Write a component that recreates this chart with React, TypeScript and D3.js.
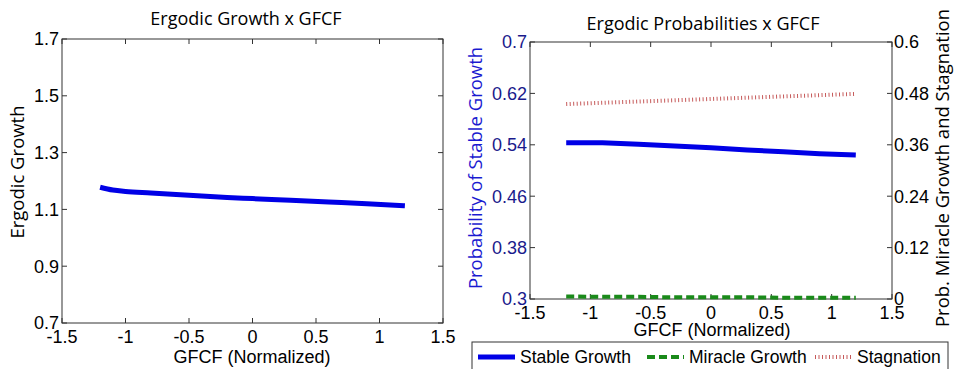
import React, { useEffect, useRef } from "react";
import * as d3 from "d3";

// left panel
const gfcfLeft = [-1.2, -1.1, -1.0, -0.8, -0.5, -0.2, 0, 0.3, 0.6, 0.9, 1.2];
const ergodicGrowth = [1.178, 1.168, 1.163, 1.158, 1.15, 1.142, 1.138, 1.132, 1.126, 1.12, 1.113];

// right panel
const gfcfRight = [-1.2, -0.9, -0.6, -0.3, 0, 0.3, 0.6, 0.9, 1.2];
const stableGrowth = [0.543, 0.543, 0.541, 0.538, 0.5355, 0.532, 0.529, 0.526, 0.524];
const miracleGrowth = [0.006, 0.005, 0.005, 0.004, 0.004, 0.004, 0.003, 0.003, 0.003];
const stagnation = [0.455, 0.458, 0.461, 0.464, 0.467, 0.47, 0.473, 0.476, 0.479];

const xTicks = [-1.5, -1, -0.5, 0, 0.5, 1, 1.5];
const leftYTicks = [0.7, 0.9, 1.1, 1.3, 1.5, 1.7];
const probTicks = [0.3, 0.38, 0.46, 0.54, 0.62, 0.7];
const rightTicks = [0, 0.12, 0.24, 0.36, 0.48, 0.6];

const legendItems = ["Stable Growth", "Miracle Growth", "Stagnation"];

const W = 958;
const H = 369;
const TICK_FONT = "Liberation Sans, Arial, sans-serif";
const LABEL_FONT = "Open Sans, sans-serif";
const TICK_SIZE = 18;

export default function App() {
  const ref = useRef<SVGSVGElement>(null);

  useEffect(() => {
    const svg = d3.select(ref.current);
    svg.selectAll("*").remove();
    svg.append("rect").attr("width", W).attr("height", H).attr("fill", "#fff");

    // boxed axis, ticks pointing inward like matlab
    function box(g: any, x: any, y: any, yTicks: number[], yColor: string) {
      const [x0, x1] = x.range();
      const [y1, y0] = y.range();
      g.append("rect").attr("x", x0).attr("y", y0).attr("width", x1 - x0).attr("height", y1 - y0)
        .attr("fill", "none").attr("stroke", "#333").attr("stroke-width", 1);
      xTicks.forEach((t) => {
        const px = x(t);
        g.append("line").attr("x1", px).attr("x2", px).attr("y1", y1).attr("y2", y1 - 5).attr("stroke", "#333");
        g.append("line").attr("x1", px).attr("x2", px).attr("y1", y0).attr("y2", y0 + 5).attr("stroke", "#333");
        g.append("text").attr("x", px).attr("y", y1 + 20).attr("text-anchor", "middle")
          .attr("font-family", TICK_FONT).attr("font-size", TICK_SIZE).attr("fill", "#000").text(String(t));
      });
      yTicks.forEach((t) => {
        const py = y(t);
        g.append("line").attr("x1", x0).attr("x2", x0 + 5).attr("y1", py).attr("y2", py).attr("stroke", "#333");
        g.append("text").attr("x", x0 - 3).attr("y", py).attr("dy", "0.36em").attr("text-anchor", "end")
          .attr("font-family", TICK_FONT).attr("font-size", TICK_SIZE).attr("fill", yColor).text(String(t));
      });
    }

    // ---------- left chart
    const xL = d3.scaleLinear().domain([-1.5, 1.5]).range([62, 443]);
    const yL = d3.scaleLinear().domain([0.7, 1.7]).range([323, 39]);
    const gL = svg.append("g");
    box(gL, xL, yL, leftYTicks, "#000");
    leftYTicks.forEach((t) => {
      gL.append("line").attr("x1", 443).attr("x2", 438).attr("y1", yL(t)).attr("y2", yL(t)).attr("stroke", "#333");
    });
    const lineL = d3.line<number>().x((_, i) => xL(gfcfLeft[i])).y((d) => yL(d)).curve(d3.curveMonotoneX);
    gL.append("path").attr("d", lineL(ergodicGrowth)).attr("fill", "none").attr("stroke", "#0000e6").attr("stroke-width", 5);

    gL.append("text").attr("x", 246).attr("y", 25).attr("text-anchor", "middle")
      .attr("font-family", LABEL_FONT).attr("font-size", 18).text("Ergodic Growth x GFCF");
    gL.append("text").attr("x", 252).attr("y", 363).attr("text-anchor", "middle")
      .attr("font-family", TICK_FONT).attr("font-size", TICK_SIZE).text("GFCF (Normalized)");
    gL.append("text").attr("transform", "translate(24,172) rotate(-90)").attr("text-anchor", "middle")
      .attr("font-family", LABEL_FONT).attr("font-size", 18.5).text("Ergodic Growth");

    // ---------- right chart
    const xR = d3.scaleLinear().domain([-1.5, 1.5]).range([530, 892]);
    const yR = d3.scaleLinear().domain([0.3, 0.7]).range([299, 42]);
    const yR2 = d3.scaleLinear().domain([0, 0.6]).range([299, 42]);
    const gR = svg.append("g");
    box(gR, xR, yR, probTicks, "#1a1a8c");
    rightTicks.forEach((t) => {
      const py = yR2(t);
      gR.append("line").attr("x1", 892).attr("x2", 887).attr("y1", py).attr("y2", py).attr("stroke", "#333");
      gR.append("text").attr("x", 894).attr("y", py).attr("dy", "0.36em").attr("text-anchor", "start")
        .attr("font-family", TICK_FONT).attr("font-size", TICK_SIZE).attr("fill", "#000").text(String(t));
    });

    const lineStable = d3.line<number>().x((_, i) => xR(gfcfRight[i])).y((d) => yR(d));
    const lineRight = d3.line<number>().x((_, i) => xR(gfcfRight[i])).y((d) => yR2(d));
    gR.append("path").attr("d", lineRight(stagnation)).attr("fill", "none").attr("stroke", "#c65a5a")
      .attr("stroke-width", 4).attr("stroke-dasharray", "1,2.5");
    gR.append("path").attr("d", lineRight(miracleGrowth)).attr("fill", "none").attr("stroke", "#1a8a1a")
      .attr("stroke-width", 4).attr("stroke-dasharray", "8,4");
    gR.append("path").attr("d", lineStable(stableGrowth)).attr("fill", "none").attr("stroke", "#0000e6").attr("stroke-width", 5);

    gR.append("text").attr("x", 703).attr("y", 30).attr("text-anchor", "middle")
      .attr("font-family", LABEL_FONT).attr("font-size", 18).text("Ergodic Probabilities x GFCF");
    gR.append("text").attr("x", 712).attr("y", 336).attr("text-anchor", "middle")
      .attr("font-family", TICK_FONT).attr("font-size", TICK_SIZE).text("GFCF (Normalized)");
    gR.append("text").attr("transform", "translate(482,168) rotate(-90)").attr("text-anchor", "middle")
      .attr("font-family", LABEL_FONT).attr("font-size", 18.5).attr("fill", "#1a1ad0").text("Probability of Stable Growth");
    gR.append("text").attr("transform", "translate(949,168) rotate(-90)").attr("text-anchor", "middle")
      .attr("font-family", LABEL_FONT).attr("font-size", 18.5).text("Prob. Miracle Growth and Stagnation");

    // ---------- legend
    const lg = svg.append("g");
    lg.append("rect").attr("x", 472).attr("y", 342).attr("width", 476).attr("height", 40)
      .attr("fill", "#fff").attr("stroke", "#333");
    const styles = [
      { color: "#0000e6", dash: null, w: 5 },
      { color: "#1a8a1a", dash: "8,4", w: 4 },
      { color: "#c65a5a", dash: "1,2.5", w: 4 },
    ];
    const lx = [478, 647, 815];
    legendItems.forEach((name, i) => {
      const s = styles[i];
      lg.append("line").attr("x1", lx[i]).attr("x2", lx[i] + 37).attr("y1", 357).attr("y2", 357)
        .attr("stroke", s.color).attr("stroke-width", s.w).attr("stroke-dasharray", s.dash);
      lg.append("text").attr("x", lx[i] + 42).attr("y", 363)
        .attr("font-family", TICK_FONT).attr("font-size", 17.5).text(name);
    });
  }, []);

  return (
    <div style={{ position: "absolute", left: 0, top: 0 }}>
      <svg ref={ref} width={W} height={H} style={{ display: "block" }} />
    </div>
  );
}
